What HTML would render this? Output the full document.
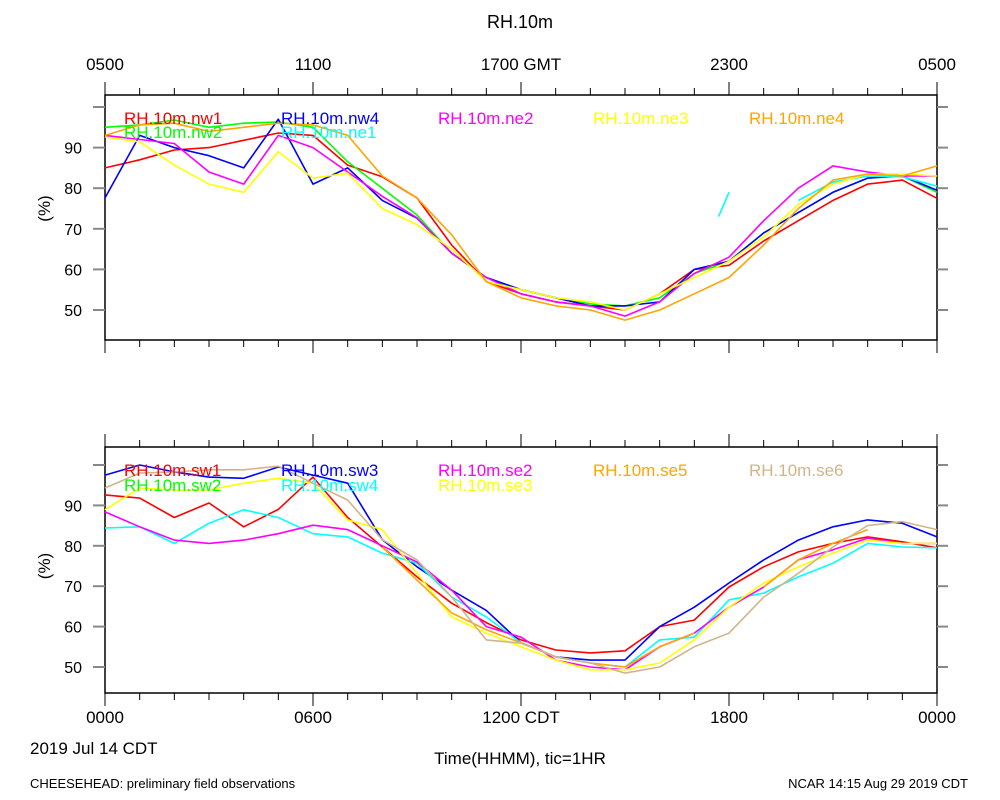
<!DOCTYPE html>
<html><head><meta charset="utf-8"><style>
body{margin:0;background:#fff;}
svg{display:block;font-family:"Liberation Sans",sans-serif;}
</style></head><body>
<svg id="chart" width="1000" height="800" viewBox="0 0 1000 800"></svg>
<script>
const HOURS=[0,1,2,3,4,5,6,7,8,9,10,11,12,13,14,15,16,17,18,19,20,21,22,23,24];
const Y_TICKS=[50,60,70,80,90,100];
const Y_LABELS=["50","60","70","80","90"];
const TOP_X_LABELS=["0500","1100","1700 GMT","2300","0500"];
const BOT_X_LABELS=["0000","0600","1200 CDT","1800","0000"];
// top panel series
const nw1=[85,87,89.4,90,91.8,93.6,93,85.7,82.8,77.6,66,57,54,52,51,50,54,60,61,67,72,77,81,82,77.5];
const nw2=[95,95.6,96.8,95,96,96.3,95,86.5,80,73.4,64,58,55,53,51.5,51,53,59,62,69,74,79,82.5,83,79];
const nw4=[77.6,93,90,88,85,97,81,85,77,72.6,64,58,55,53,51,51,52,60,62,69,74,79,82.5,83,79.5];
const ne2=[93,92,91,84,81,93,90,84,78,72.7,64,58,54,52,51,48.5,52,59,63,72,80,85.5,84,83,83];
const ne3=[92.6,91.4,85.7,81,79,89,82.5,83.7,75,71,65,57,55,53,52,50,54,58,62,68,76,81,83.5,83.5,83];
const ne4=[93,95.6,96,94,95,96,95.6,93,83,77.6,68.5,57,53,51,50,47.5,50,54,58,66,75,82,83.5,83,85.5];
const ne1=[null,null,null,null,null,null,null,null,null,null,null,null,null,null,null,null,null,null,null,null,77,81.5,83,82.8,80.5];
const ne1SegHours=[17.7,18];
const ne1SegVals=[73,79];
// bottom panel series
const sw1=[92.6,91.8,87,90.6,84.7,89,97,87,79.7,72.3,65.8,61,56.7,54.2,53.5,54,60,61.6,69.8,74.8,78.5,80.6,82.2,81,79.5];
const sw2=[null,null,null,null,null,null,null,null,null,null,null,null,null,null,null,null,null,null,null,null,null,null,null,null,null];
const sw3=[97.5,100,98.3,97,96.7,99.5,97.5,95.5,81.5,74.8,69,64,56,52.5,51.7,51.7,60,64.8,70.8,76.5,81.4,84.7,86.4,85.6,82.2];
const sw4=[84.4,84.7,80.6,85.6,88.9,87,83,82.2,78.2,75.7,67.3,62.4,56,52.5,51,50,56.7,57.4,66.6,68.3,72.3,75.7,80.6,79.7,79.5];
const se2=[88.4,84.7,81.4,80.6,81.4,83,85.1,84,80,76,69,60,57.4,51.7,50,49.3,55,58.4,64.8,69.8,76.5,79,81.9,80.6,80.6];
const se3=[88.9,94.3,93.8,93.8,95.5,96.7,95.5,86.4,84,73.2,62.4,58.4,55,51.7,49.3,49.3,51,56.7,64.8,70.8,74.8,78.2,81.4,80.6,80.6];
const se5=[null,null,null,null,null,null,null,null,79.7,71.5,63.4,59.2,56,52.5,51,50,55,58.4,null,69.8,76.5,80.6,84,null,null];
const se6=[94.3,98,98.3,98.8,98.8,99.7,95.5,91.3,81.5,76.5,67.3,56.7,55.9,52.5,51,48.5,50,55,58.4,67.3,73.2,79.7,85,86,84];

const svg=document.getElementById('chart');
const NS='http://www.w3.org/2000/svg';
function mk(tag,attrs,parent){const e=document.createElementNS(NS,tag);for(const k in attrs)e.setAttribute(k,attrs[k]);(parent||svg).appendChild(e);return e;}
const X0=105,X1=937;
function xs(h){return X0+(X1-X0)*h/24;}
const panels=[
 {top:95,bot:340,y100:107,y50:310,name:'top'},
 {top:447,bot:693,y100:465,y50:667,name:'bottom'}
];
function ysFor(p){return v=>p.y50+(v-50)*(p.y100-p.y50)/50;}

function text(str,x,y,opts){const t=mk('text',Object.assign({x:x,y:y,'font-size':17,fill:'#000'},opts||{}));t.textContent=str;return t;}

let t=text('RH.10m',520,28,{'text-anchor':'middle','font-size':18});



panels.forEach((p,pi)=>{
  const ys=ysFor(p);
  const g=mk('g',{});
  
  
  const fr=mk('rect',{x:X0,y:p.top,width:X1-X0,height:p.bot-p.top,fill:'none',stroke:'#000','stroke-width':1.5},g);
  
  
  for(let h=0;h<=24;h++){
    const x=xs(h),len=(h%6===0)?13:7;
    mk('line',{x1:x,x2:x,y1:p.top,y2:p.top-len,stroke:'#000','stroke-width':1},g);
    mk('line',{x1:x,x2:x,y1:p.bot,y2:p.bot+len,stroke:'#000','stroke-width':1},g);
  }
  Y_TICKS.forEach(v=>{
    const y=ys(v);
    mk('line',{x1:X0,x2:X0-12,y1:y,y2:y,stroke:'#888','stroke-width':2},g);
    mk('line',{x1:X1,x2:X1+11,y1:y,y2:y,stroke:'#888','stroke-width':2},g);
  });
  Y_LABELS.forEach(l=>{
    const yl=text(l,82,ys(+l)+6,{'text-anchor':'end','font-size':16});
    
    
  });
  const yt=text('(%)',0,0,{'text-anchor':'middle','font-size':17,transform:'translate(50,'+((p.y100+p.y50)/2)+') rotate(-90)'});
  
  
});

TOP_X_LABELS.forEach((l,i)=>{
  const e=text(l,xs(i*6),70,{'text-anchor':'middle','font-size':17});
  
  
});
BOT_X_LABELS.forEach((l,i)=>{
  const e=text(l,xs(i*6),723,{'text-anchor':'middle','font-size':17});
  
  
});
t=text('2019 Jul 14 CDT',30,754,{'font-size':17});


t=text('Time(HHMM), tic=1HR',520,764,{'text-anchor':'middle','font-size':17});


t=text('CHEESEHEAD: preliminary field observations',30,788,{'font-size':13});


t=text('NCAR 14:15 Aug 29 2019 CDT',968,788,{'text-anchor':'end','font-size':13});



function drawLine(p,hours,vals,color,name){
  const ys=ysFor(p);
  let d='',pen=false;
  for(let i=0;i<vals.length;i++){
    const v=vals[i];
    if(v===null||v===undefined){pen=false;continue;}
    d+=(pen?'L':'M')+xs(hours[i]).toFixed(1)+' '+ys(v).toFixed(1)+' ';
    pen=true;
  }
  if(!d)return;
  const e=mk('path',{d:d,fill:'none',stroke:color,'stroke-width':1.6,'stroke-linejoin':'round'});
  
  
}
const C={red:'#ff0000',green:'#00ff00',blue:'#0000ff',mag:'#ff00ff',yel:'#ffff00',cyan:'#00ffff',orng:'#ffa500',tan:'#d2b48c'};
const topSeries=[['nw1',nw1,C.red],['nw2',nw2,C.green],['nw4',nw4,C.blue],['ne1',ne1,C.cyan],['ne2',ne2,C.mag],['ne3',ne3,C.yel],['ne4',ne4,C.orng]];
const botSeries=[['sw1',sw1,C.red],['sw2',sw2,C.green],['sw3',sw3,C.blue],['sw4',sw4,C.cyan],['se2',se2,C.mag],['se3',se3,C.yel],['se5',se5,C.orng],['se6',se6,C.tan]];
topSeries.forEach(s=>drawLine(panels[0],HOURS,s[1],s[2],'series-'+s[0]));
drawLine(panels[0],ne1SegHours,ne1SegVals,C.cyan,'series-ne1-segment');
botSeries.forEach(s=>drawLine(panels[1],HOURS,s[1],s[2],'series-'+s[0]));

const topLegend=[['RH.10m.nw1',C.red,124,124],['RH.10m.nw4',C.blue,281,124],['RH.10m.ne2',C.mag,438,124],['RH.10m.ne3',C.yel,593,124],['RH.10m.ne4',C.orng,749,124],['RH.10m.nw2',C.green,124,138],['RH.10m.ne1',C.cyan,281,138]];
const botLegend=[['RH.10m.sw1',C.red,124,476],['RH.10m.sw3',C.blue,281,476],['RH.10m.se2',C.mag,438,476],['RH.10m.se5',C.orng,593,476],['RH.10m.se6',C.tan,749,476],['RH.10m.sw2',C.green,124,491],['RH.10m.sw4',C.cyan,281,491],['RH.10m.se3',C.yel,438,491]];
topLegend.concat(botLegend).forEach(l=>{
  const e=text(l[0],l[2],l[3],{fill:l[1],'font-size':17});
  
  
});
</script>
</body></html>
